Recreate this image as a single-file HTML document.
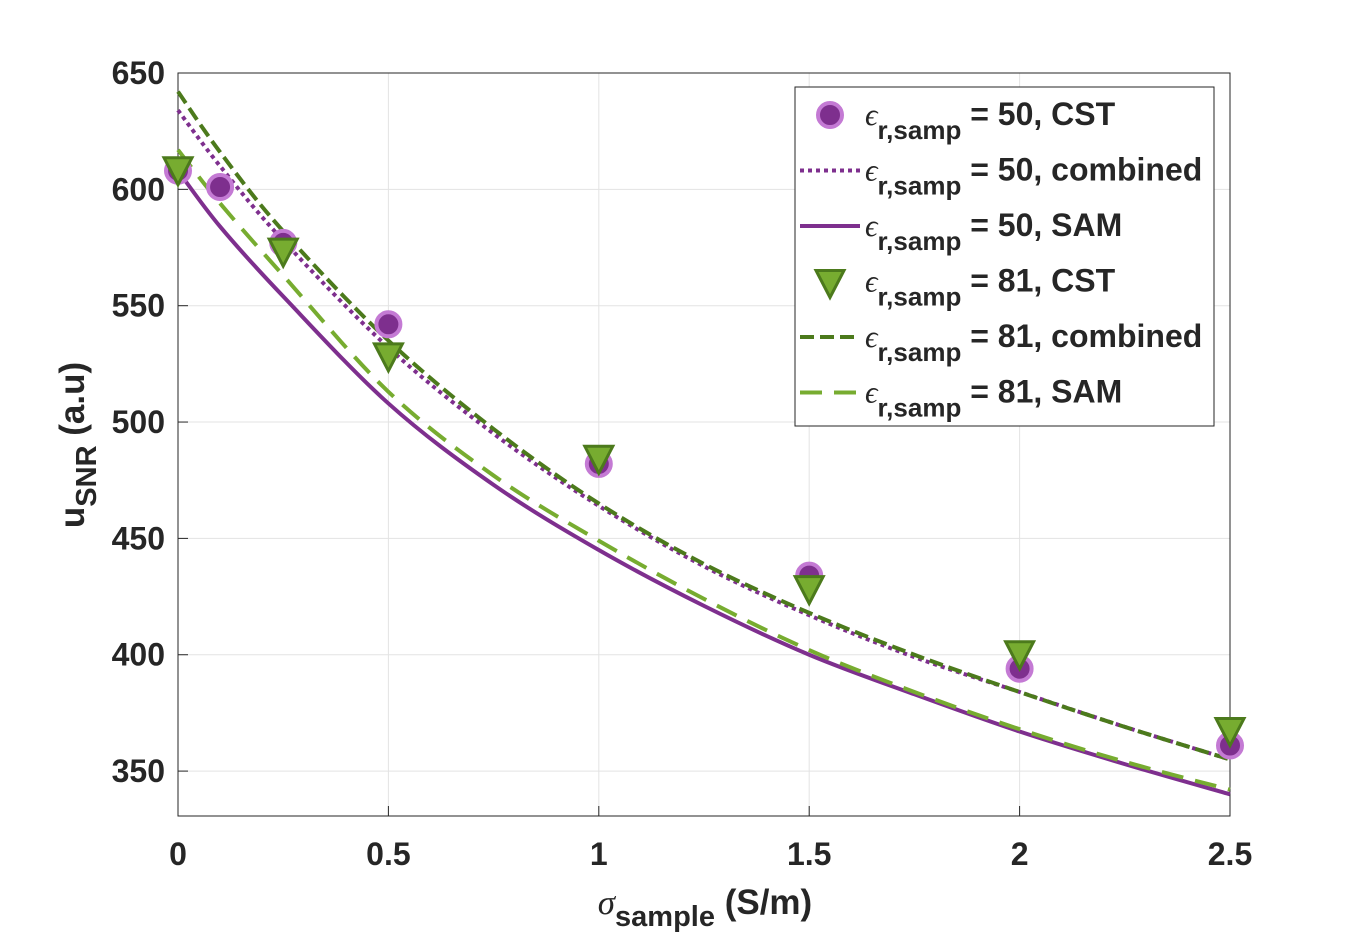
<!DOCTYPE html>
<html><head><meta charset="utf-8"><style>
body{margin:0;background:#fff}
svg text{font-family:"Liberation Sans",Arial,sans-serif;font-weight:bold;fill:#262626}
</style></head><body>
<svg id="chart" width="1360" height="942" viewBox="0 0 1360 942" xmlns="http://www.w3.org/2000/svg">
<rect width="1360" height="942" fill="#fff"/>
<g id="grid"></g>
<g id="axes"></g>
<g id="series"></g>
<text x="705" y="914" text-anchor="middle" font-size="35"><tspan font-style="italic" font-weight="normal" font-family="Liberation Serif">σ</tspan><tspan font-size="29" dy="12">sample</tspan><tspan dy="-12"> (S/m)</tspan></text>
<text transform="translate(84,445) rotate(-90)" text-anchor="middle" font-size="35">u<tspan font-size="29" dy="12">SNR</tspan><tspan dy="-12"> (a.u)</tspan></text>
<g id="legend"></g>
</svg>
<script>
const xCst=[0,0.1,0.25,0.5,1,1.5,2,2.5];
const yCst50=[608,601,577,542,482,434,394,361];
const xCst81=[0,0.25,0.5,1,1.5,2,2.5];
const yCst81=[608,573,528,484,428,400,367];
const xCurve=[0,0.1,0.25,0.5,0.75,1,1.25,1.5,1.75,2,2.25,2.5];
const yComb50=[634,610,578,532,495,464,438,417,399,384,369,355];
const yComb81=[642,616,582,535,497,465,439,418,400,384,369,355];
const ySam50=[608,584,554,508,473,445,421,400,383,367,353,340];
const ySam81=[617,594,563,513,477,449,424,402,384,368,354,342];
const xTicks=[0,0.5,1,1.5,2,2.5];
const xTickLabels=["0","0.5","1","1.5","2","2.5"];
const yTicks=[350,400,450,500,550,600,650];

const NS="http://www.w3.org/2000/svg";
const L=178,R=1230,T=73,B=816;
const xmin=0,xmax=2.5,ymin=330.7,ymax=650;
const sx=v=>L+(v-xmin)/(xmax-xmin)*(R-L);
const sy=v=>B-(v-ymin)/(ymax-ymin)*(B-T);
function mk(tag,attrs,parent){const e=document.createElementNS(NS,tag);for(const k in attrs)e.setAttribute(k,attrs[k]);parent.appendChild(e);return e;}
const grid=document.getElementById('grid'),axes=document.getElementById('axes'),series=document.getElementById('series'),legend=document.getElementById('legend');

xTicks.forEach((t,i)=>{
 const g=mk('line',{x1:sx(t),x2:sx(t),y1:T,y2:B,stroke:'#e3e3e3','stroke-width':1},grid);
 
 
 const tx=mk('text',{x:sx(t),y:865,'text-anchor':'middle','font-size':32},axes);
 tx.textContent=xTickLabels[i];
 
 
 mk('line',{x1:sx(t),x2:sx(t),y1:B,y2:B-10,stroke:'#262626'},axes);
});
yTicks.forEach(t=>{
 const g=mk('line',{x1:L,x2:R,y1:sy(t),y2:sy(t),stroke:'#e3e3e3','stroke-width':1},grid);
 
 
 const tx=mk('text',{x:165,y:sy(t)+11,'text-anchor':'end','font-size':32},axes);
 tx.textContent=t;
 
 
 mk('line',{x1:L,x2:L+10,y1:sy(t),y2:sy(t),stroke:'#262626'},axes);
});
const box=mk('rect',{x:L,y:T,width:R-L,height:B-T,fill:'none',stroke:'#262626','stroke-width':1},axes);



function smooth(xs,ys){
 const p=xs.map((x,i)=>[sx(x),sy(ys[i])]);
 let d=`M${p[0][0]},${p[0][1]}`;
 for(let i=0;i<p.length-1;i++){
  const p0=p[i-1]||p[i],p1=p[i],p2=p[i+1],p3=p[i+2]||p2;
  const c1=[p1[0]+(p2[0]-p0[0])/6,p1[1]+(p2[1]-p0[1])/6];
  const c2=[p2[0]-(p3[0]-p1[0])/6,p2[1]-(p3[1]-p1[1])/6];
  d+=` C${c1[0]},${c1[1]} ${c2[0]},${c2[1]} ${p2[0]},${p2[1]}`;
 }
 return d;
}
const PUR='#7E2F8E',DG='#4C7A1C',LG='#77AC30';
const styles={
 sam50:{stroke:PUR,w:4,dash:''},
 sam81:{stroke:LG,w:4,dash:'22,12'},
 comb50:{stroke:PUR,w:4,dash:'4,4'},
 comb81:{stroke:DG,w:4,dash:'14,6'}
};
[['sam50',ySam50],['sam81',ySam81],['comb50',yComb50],['comb81',yComb81]].forEach(([k,ys])=>{
 const s=styles[k];
 const p=mk('path',{d:smooth(xCurve,ys),fill:'none',stroke:s.stroke,'stroke-width':s.w,'stroke-dasharray':s.dash},series);
 
 
});
function circle(cx,cy,parent){return mk('circle',{cx,cy,r:12,fill:PUR,stroke:'#C47AD4','stroke-width':4},parent);}
function tri(cx,cy,parent){return mk('path',{d:`M${cx-14},${cy-13} L${cx+14},${cy-13} L${cx},${cy+14} Z`,fill:LG,stroke:DG,'stroke-width':3},parent);}
xCst.forEach((x,i)=>{
 const c=circle(sx(x),sy(yCst50[i]),series);
 
 
});
xCst81.forEach((x,i)=>{
 const t=tri(sx(x),sy(yCst81[i]),series);
 
 
});

const lb=mk('rect',{x:795,y:87,width:419,height:339,fill:'#fff',stroke:'#262626','stroke-width':1},legend);


const entries=[['= 50, CST','c'],['= 50, combined','comb50'],['= 50, SAM','sam50'],['= 81, CST','t'],['= 81, combined','comb81'],['= 81, SAM','sam81']];
entries.forEach((e,i)=>{
 const y=115+i*55.5;
 if(e[1]==='c')circle(830,y,legend);
 else if(e[1]==='t')tri(830,y+2,legend);
 else{const s=styles[e[1]];mk('line',{x1:800,x2:860,y1:y,y2:y,stroke:s.stroke,'stroke-width':s.w,'stroke-dasharray':s.dash},legend);}
 const t=mk('text',{x:865,y:y+10,'font-size':31},legend);
 t.innerHTML=`<tspan font-style="italic" font-weight="normal" font-family="Liberation Serif">ϵ</tspan><tspan font-size="26" dy="14">r,samp</tspan><tspan dy="-14" font-size="32"> ${e[0]}</tspan>`;
 
 
});
</script>
</body></html>
